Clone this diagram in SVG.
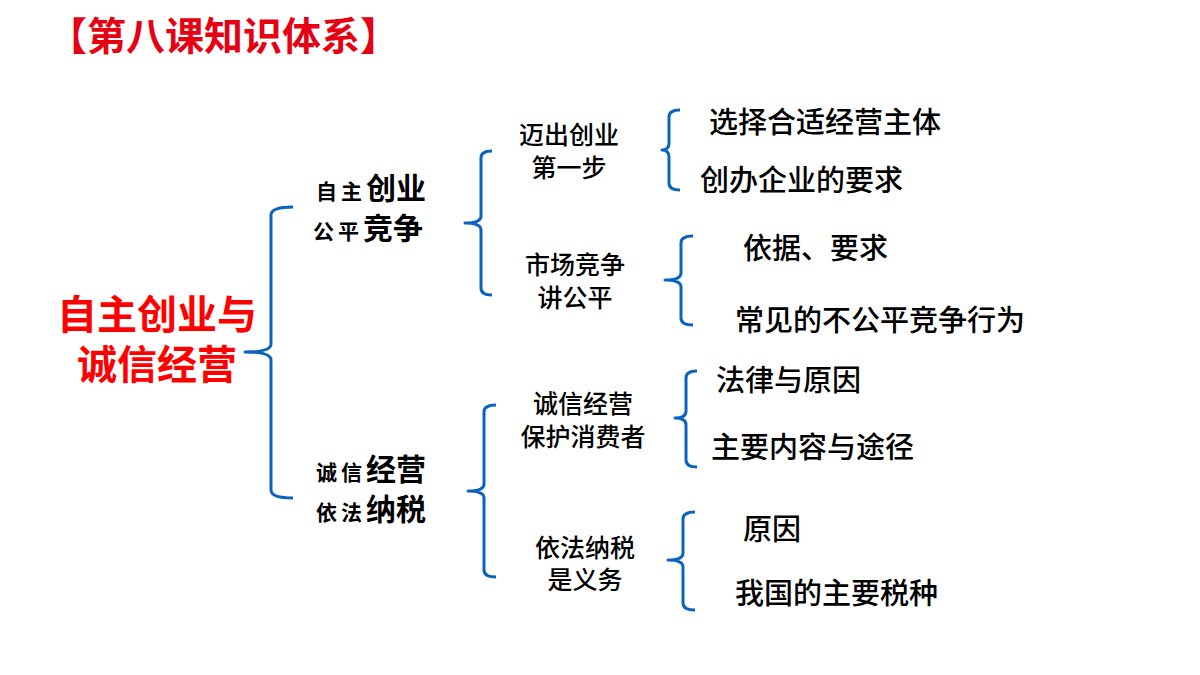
<svg xmlns="http://www.w3.org/2000/svg" width="1200" height="675" viewBox="0 0 1200 675">
<style>
.b{fill:none;stroke:#0A64BE;stroke-width:3;stroke-linejoin:round}
text{font-family:"Noto Sans CJK SC","Noto Sans",sans-serif;fill:#000}
.l2{font-size:25px;text-anchor:middle;font-weight:500}
.l3{font-size:29px;font-weight:500}
.s{font-size:21px;font-weight:bold}
.k{font-size:30px;font-weight:bold}
</style>
<rect width="1200" height="675" fill="#fff"/>
<g id="title"><text x="48" y="50" font-size="39" font-weight="bold" style="fill:#E60012">【第八课知识体系】</text></g>
<g id="root"><text x="157" y="329" font-size="40" font-weight="bold" text-anchor="middle" style="fill:#FF0000">自主创业与</text><text x="157" y="379" font-size="40" font-weight="bold" text-anchor="middle" style="fill:#FF0000">诚信经营</text></g>
<g id="connectors">
<path class="b" d="M293,207 Q271,207 271,215 L271,344 Q271,352 245,352 Q271,352 271,360 L271,490 Q271,498 293,498"/>
<path class="b" d="M492,151 Q481,151 481,158 L481,216 Q481,223 465,223 Q481,223 481,230 L481,288 Q481,295 492,295"/>
<path class="b" d="M496,405 Q484,405 484,412 L484,484 Q484,491 468,491 Q484,491 484,498 L484,570 Q484,577 496,577"/>
<path class="b" d="M680,110 Q669,110 669,117 L669,143 Q669,150 662,150 Q669,150 669,157 L669,183 Q669,190 680,190"/>
<path class="b" d="M693,236 Q681,236 681,243 L681,273 Q681,280 665,280 Q681,280 681,287 L681,318 Q681,325 693,325"/>
<path class="b" d="M697,371 Q686,371 686,378 L686,411 Q686,418 675,418 Q686,418 686,425 L686,460 Q686,467 697,467"/>
<path class="b" d="M695,512 Q683,512 683,519 L683,553 Q683,560 668,560 Q683,560 683,567 L683,603 Q683,610 695,610"/>
</g>
<g id="n1"><text x="316" y="199"><tspan class="s" letter-spacing="4">自主</tspan><tspan class="k">创业</tspan></text><text x="313" y="239"><tspan class="s" letter-spacing="4">公平</tspan><tspan class="k">竞争</tspan></text></g>
<g id="n2"><text x="316" y="480"><tspan class="s" letter-spacing="4">诚信</tspan><tspan class="k">经营</tspan></text><text x="316" y="520"><tspan class="s" letter-spacing="4">依法</tspan><tspan class="k">纳税</tspan></text></g>
<g id="n11"><text class="l2" x="569" y="144">迈出创业</text><text class="l2" x="569" y="177">第一步</text></g>
<g id="n12"><text class="l2" x="575" y="274">市场竞争</text><text class="l2" x="575" y="307">讲公平</text></g>
<g id="n21"><text class="l2" x="583" y="413">诚信经营</text><text class="l2" x="583" y="446">保护消费者</text></g>
<g id="n22"><text class="l2" x="585" y="557">依法纳税</text><text class="l2" x="585" y="589">是义务</text></g>
<g id="leaves">
<text class="l3" x="709" y="133">选择合适经营主体</text>
<text class="l3" x="700" y="191">创办企业的要求</text>
<text class="l3" x="743" y="259">依据、要求</text>
<text class="l3" x="735" y="331">常见的不公平竞争行为</text>
<text class="l3" x="716" y="391">法律与原因</text>
<text class="l3" x="711" y="458">主要内容与途径</text>
<text class="l3" x="743" y="540">原因</text>
<text class="l3" x="735" y="604">我国的主要税种</text>
</g>
</svg>
